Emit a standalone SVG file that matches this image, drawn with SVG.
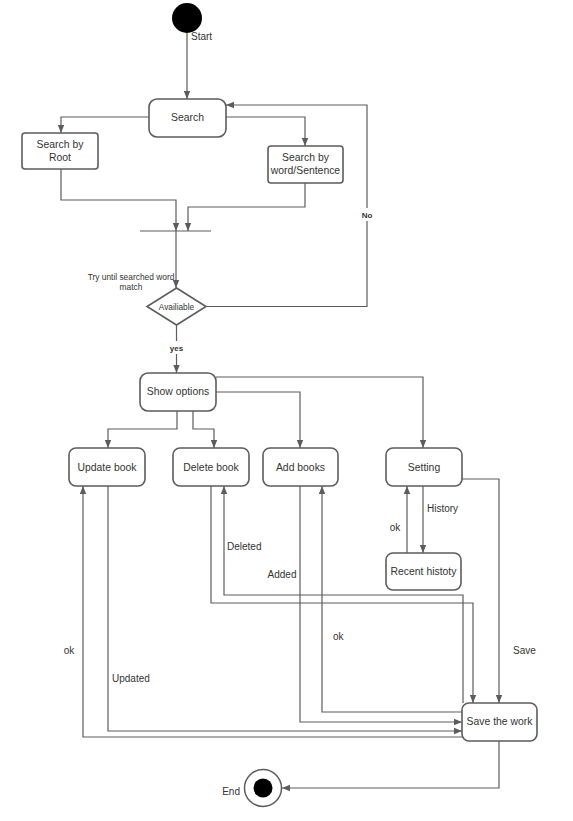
<svg xmlns="http://www.w3.org/2000/svg" width="573" height="821" viewBox="0 0 573 821">
<defs>
<marker id="arr" markerUnits="userSpaceOnUse" markerWidth="8" markerHeight="8" refX="8" refY="4" orient="auto">
<path d="M0,0.8 L8,4 L0,7.2 z" fill="#5c5c5c"/>
</marker>
<style>
.box{fill:#fff;stroke:#5c5c5c;stroke-width:1.6}
.t{font-family:"Liberation Sans",Arial,sans-serif;font-size:10.4px;fill:#333;text-anchor:middle;dominant-baseline:central}
.l{font-family:"Liberation Sans",Arial,sans-serif;font-size:10px;fill:#333;dominant-baseline:central}
.b{font-family:"Liberation Sans",Arial,sans-serif;font-size:8px;font-weight:bold;fill:#333;text-anchor:middle;dominant-baseline:central}
.c{fill:none;stroke:#5c5c5c;stroke-width:1.2;marker-end:url(#arr)}
.n{fill:none;stroke:#5c5c5c;stroke-width:1.2}
</style>
</defs>
<rect width="573" height="821" fill="#fff"/>

<g id="connectors">
<path class="c" d="M187,33 V99"/>
<path class="c" d="M149,117 H61 V133"/>
<path class="c" d="M226,117 H305 V146"/>
<path class="c" d="M61,169 V200 H176 V231"/>
<path class="c" d="M305,183 V207 H188 V231"/>
<path class="c" d="M176,231 V288"/>
<path class="c" d="M206,306.5 H367 V105 H226"/>
<path class="c" d="M176.5,325 V373"/>
<path class="c" d="M216,377 H423 V448"/>
<path class="c" d="M216,392 H300 V448"/>
<path class="c" d="M177,411 V429 H108 V448"/>
<path class="c" d="M193,411 V429 H214 V448"/>
<path class="c" d="M423,486 V553"/>
<path class="c" d="M407,553 V486"/>
<path class="c" d="M462,479 H499 V703"/>
<path class="c" d="M211,486 V603 H473 V703"/>
<path class="c" d="M463,703 V595 H224 V486"/>
<path class="c" d="M300,486 V722 H462"/>
<path class="c" d="M462,712 H322 V486"/>
<path class="c" d="M108,486 V731 H462"/>
<path class="c" d="M462,737 H83 V486"/>
<path class="c" d="M499,741 V788 H282"/>
<rect x="359" y="208" width="16" height="13" fill="#fff"/>
<text class="b" x="367" y="215">No</text>
<rect x="167" y="341" width="19" height="13" fill="#fff"/>
<text class="b" x="176.5" y="348">yes</text>
<text class="l" x="427" y="508">History</text>
<text class="l" x="395" y="527" text-anchor="middle">ok</text>
<text class="l" x="513" y="650">Save</text>
<text class="l" x="227" y="546">Deleted</text>
<text class="l" x="282" y="574" text-anchor="middle">Added</text>
<text class="l" x="333" y="636">ok</text>
<text class="l" x="112" y="678">Updated</text>
<text class="l" x="69" y="650" text-anchor="middle">ok</text>
</g>

<g id="start">
<circle cx="187" cy="18" r="15" fill="#000"/>
<text class="l" x="191" y="36">Start</text>
</g>

<g id="search">
<rect class="box" x="149" y="99" width="77" height="38" rx="8"/>
<text class="t" x="187.5" y="117">Search</text>
</g>

<g id="search-root">
<rect class="box" x="22" y="133" width="76" height="36" rx="3"/>
<text class="t" x="60" y="144">Search by</text>
<text class="t" x="60" y="157">Root</text>
</g>

<g id="search-word">
<rect class="box" x="268" y="146" width="75" height="37" rx="3"/>
<text class="t" x="305.5" y="157">Search by</text>
<text class="t" x="305.5" y="170">word/Sentence</text>
</g>

<g id="join">
<line x1="140" y1="231" x2="211" y2="231" stroke="#5c5c5c" stroke-width="1.2"/>
</g>

<g id="available">
<polygon class="box" points="176.5,288 206,306.5 176.5,325 147,306.5"/>
<text class="t" x="176.5" y="306.5" style="font-size:8.3px">Availiable</text>
<text class="t" x="131" y="277" style="font-size:8.4px">Try until searched word</text>
<text class="t" x="131" y="287" style="font-size:8.4px">match</text>
</g>

<g id="show-options">
<rect class="box" x="140" y="373" width="76" height="38" rx="8"/>
<text class="t" x="178" y="391">Show options</text>
</g>

<g id="update-book">
<rect class="box" x="69" y="448" width="76" height="38" rx="7"/>
<text class="t" x="107" y="467">Update book</text>
</g>

<g id="delete-book">
<rect class="box" x="173" y="448" width="76" height="38" rx="7"/>
<text class="t" x="211" y="467">Delete book</text>
</g>

<g id="add-books">
<rect class="box" x="263" y="448" width="75" height="38" rx="7"/>
<text class="t" x="300.5" y="467">Add books</text>
</g>

<g id="setting">
<rect class="box" x="386" y="448" width="76" height="38" rx="7"/>
<text class="t" x="424" y="467">Setting</text>
</g>

<g id="recent-history">
<rect class="box" x="386" y="553" width="75" height="37" rx="7"/>
<text class="t" x="423.5" y="571">Recent histoty</text>
</g>

<g id="save-work">
<rect class="box" x="462" y="703" width="75" height="38" rx="7"/>
<text class="t" x="499.5" y="721">Save the work</text>
</g>

<g id="end">
<circle cx="263" cy="788" r="18.5" fill="#fff" stroke="#5c5c5c" stroke-width="1.5"/>
<circle cx="263" cy="788" r="9.5" fill="#000"/>
<text class="l" x="240" y="791" text-anchor="end">End</text>
</g>
</svg>
